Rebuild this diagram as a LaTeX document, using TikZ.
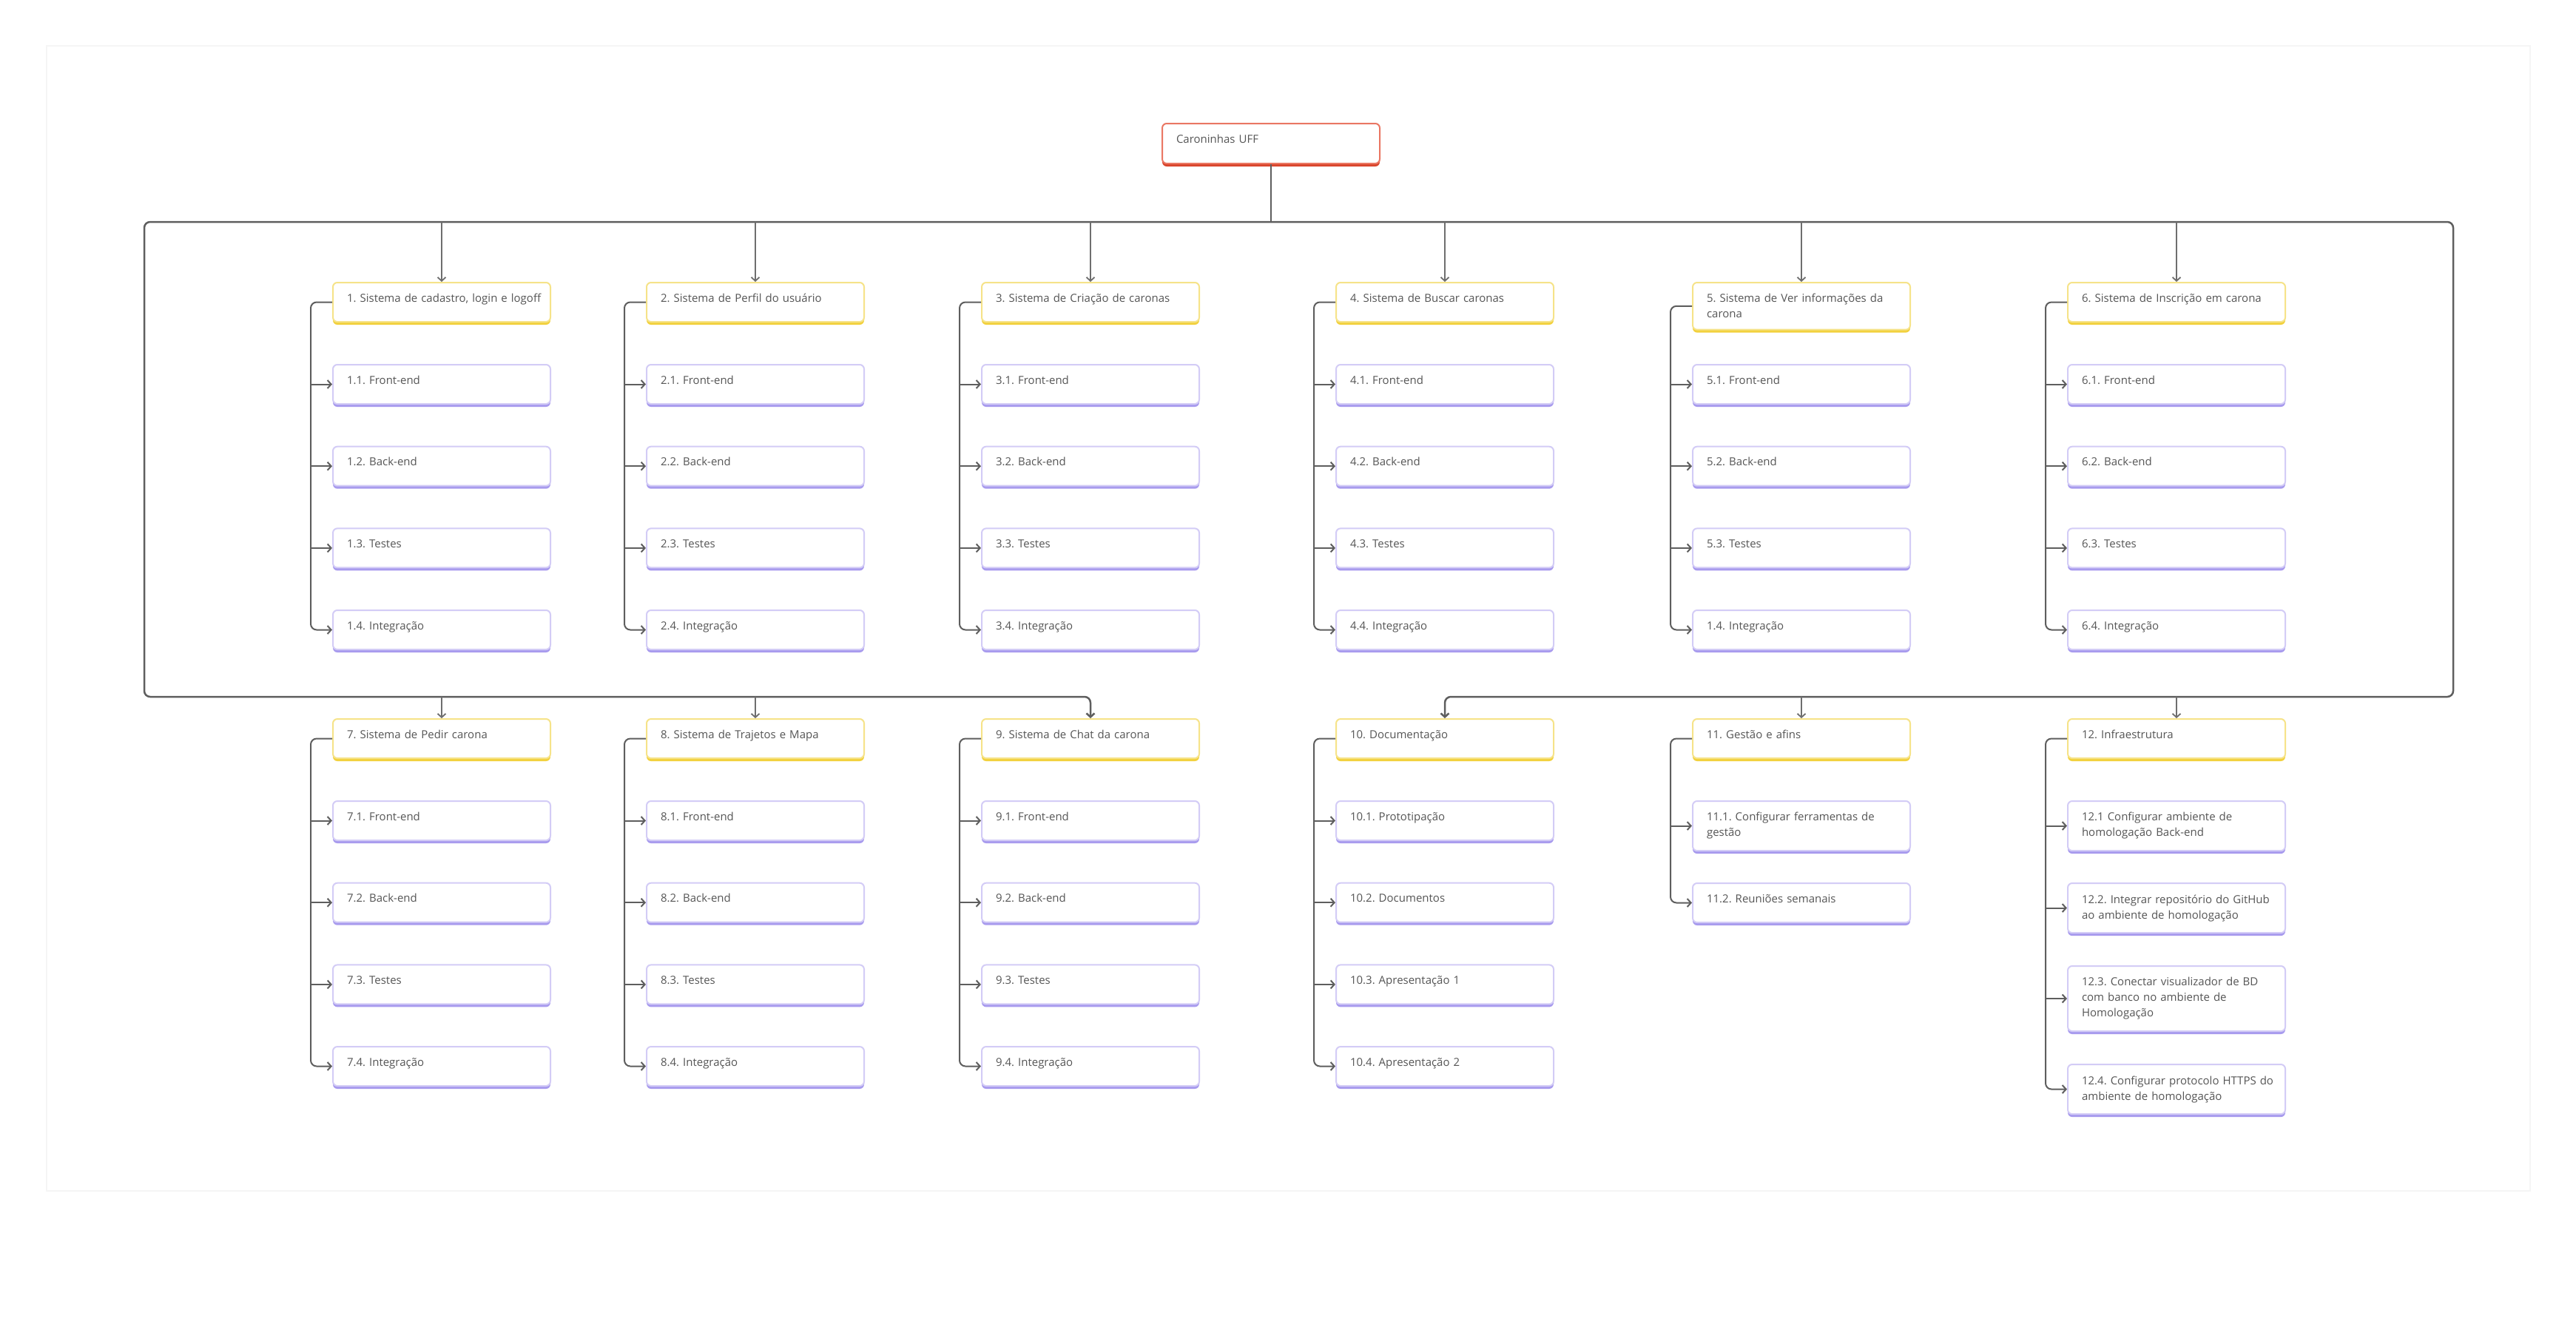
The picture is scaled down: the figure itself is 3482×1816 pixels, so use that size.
\documentclass[tikz,border=0pt]{standalone}
\usepackage{fontspec}
\setmainfont{Open Sans}
\usetikzlibrary{shadows,arrows.meta}
\definecolor{txt}{HTML}{555555}
\definecolor{ylight}{HTML}{F6E389}
\definecolor{ydark}{HTML}{F2D13E}
\definecolor{plight}{HTML}{D3CCF6}
\definecolor{pdark}{HTML}{A89BEE}
\definecolor{rlight}{HTML}{EA7763}
\definecolor{rdark}{HTML}{D9452C}
\definecolor{cgray}{HTML}{5E5E5E}
\newcommand\LL[1]{\mbox{#1}}
\frenchspacing
\begin{document}
\begin{tikzpicture}[x=1pt,y=-1pt,
  box/.style={rectangle, rounded corners=6pt, fill=white, line width=2pt,
    text width=256pt, inner xsep=19pt, inner ysep=12.5pt, minimum height=53pt,
    text depth=12pt,
    align=left, anchor=north west, font=\frenchspacing\fontsize{15}{21}\selectfont, text=txt},
  multi/.style={text depth={}, inner ysep=15.5pt},
  ybox/.style={box, draw=ylight, general shadow={fill=ydark, shadow yshift=-4pt}},
  pbox/.style={box, draw=plight, general shadow={fill=pdark, shadow yshift=-4pt}},
  rbox/.style={box, draw=rlight, minimum height=54pt, general shadow={fill=rdark, shadow yshift=-4pt}},
  tip/.style={-{Straight Barb[length=5pt,width=11pt]}},
  frame/.style={draw=cgray, line width=2.5pt},
  conn/.style={draw=cgray, line width=2pt, tip},
  drop/.style={draw=cgray!90, line width=1.8pt, tip}
]
\useasboundingbox (0,0) rectangle (3482,1816);
\fill[white] (0,0) rectangle (3482,1816);
\draw[draw=black!4, line width=1.5pt] (63,62) rectangle (3420,1610);

% root
\node[rbox] (root) at (1570,166) {Caroninhas UFF};

% parents, row 1
\node[ybox] (p1) at (449,381) {\LL{1. Sistema de cadastro, login e logoff}};
\node[ybox] (p2) at (873,381) {\LL{2. Sistema de Perfil do usuário}};
\node[ybox] (p3) at (1326,381) {\LL{3. Sistema de Criação de caronas}};
\node[ybox] (p4) at (1805,381) {\LL{4. Sistema de Buscar caronas}};
\node[ybox, multi] (p5) at (2287,381) {\LL{5. Sistema de Ver informações da}\\\LL{carona}};
\node[ybox] (p6) at (2794,381) {\LL{6. Sistema de Inscrição em carona}};
% parents, row 2
\node[ybox] (p7) at (449,971) {\LL{7. Sistema de Pedir carona}};
\node[ybox] (p8) at (873,971) {\LL{8. Sistema de Trajetos e Mapa}};
\node[ybox] (p9) at (1326,971) {\LL{9. Sistema de Chat da carona}};
\node[ybox] (p10) at (1805,971) {\LL{10. Documentação}};
\node[ybox] (p11) at (2287,971) {\LL{11. Gestão e afins}};
\node[ybox] (p12) at (2794,971) {\LL{12. Infraestrutura}};

% standard children
\foreach \i/\x/\y/\k in {1/449/381/1,2/873/381/2,3/1326/381/3,4/1805/381/4,5/2287/381/1,6/2794/381/6,7/449/971/7,8/873/971/8,9/1326/971/9}{
  \node[pbox] (c\i-1) at (\x,\y+111) {\LL{\i.1. Front-end}};
  \node[pbox] (c\i-2) at (\x,\y+221.7) {\LL{\i.2. Back-end}};
  \node[pbox] (c\i-3) at (\x,\y+332.4) {\LL{\i.3. Testes}};
  \node[pbox] (c\i-4) at (\x,\y+443) {\LL{\k.4. Integração}};
}

% column 10
\node[pbox] (c10-1) at (1805,1082) {\LL{10.1. Prototipação}};
\node[pbox] (c10-2) at (1805,1192.7) {\LL{10.2. Documentos}};
\node[pbox] (c10-3) at (1805,1303.4) {\LL{10.3. Apresentação 1}};
\node[pbox] (c10-4) at (1805,1414) {\LL{10.4. Apresentação 2}};
% column 11
\node[pbox, multi] (c11-1) at (2287,1082) {\LL{11.1. Configurar ferramentas de}\\\LL{gestão}};
\node[pbox] (c11-2) at (2287,1193) {\LL{11.2. Reuniões semanais}};
% column 12
\node[pbox, multi] (c12-1) at (2794,1082) {\LL{12.1 Configurar ambiente de}\\\LL{homologação Back-end}};
\node[pbox, multi] (c12-2) at (2794,1193) {\LL{12.2. Integrar repositório do GitHub}\\\LL{ao ambiente de homologação}};
\node[pbox, multi] (c12-3) at (2794,1305) {\LL{12.3. Conectar visualizador de BD}\\\LL{com banco no ambiente de}\\\LL{Homologação}};
\node[pbox, multi] (c12-4) at (2794,1438) {\LL{12.4. Configurar protocolo HTTPS do}\\\LL{ambiente de homologação}};

% brackets
\foreach \i/\n in {1/4,2/4,3/4,4/4,5/4,6/4,7/4,8/4,9/4,10/4,11/2,12/4}{
  \coordinate (b\i) at ([xshift=-29pt]p\i.west);
  \draw[conn, rounded corners=8pt] (p\i.west) -- (b\i) |- (c\i-\n.west);
}
\foreach \i in {1,...,10,12}{
  \foreach \j in {1,2,3}{
    \draw[conn] (b\i |- c\i-\j.west) -- (c\i-\j.west);
  }
}
\draw[conn] (b11 |- c11-1.west) -- (c11-1.west);

% frame
\coordinate (tl) at (195,300);
\coordinate (tr) at (3316,300);
\coordinate (bl) at (195,942);
\coordinate (br) at (3316,942);
\draw[frame] (root.south) -- (root.south |- tl);
\draw[frame, tip, rounded corners=8pt] (root.south |- tl) -- (tl) -- (bl) -- (p9.north |- bl) -- (p9.north);
\draw[frame, tip, rounded corners=8pt] (root.south |- tr) -- (tr) -- (br) -- (p10.north |- br) -- (p10.north);
\foreach \i in {1,...,6}{
  \draw[drop] (p\i.north |- tl) -- (p\i.north);
}
\foreach \i in {7,8}{
  \draw[drop] (p\i.north |- bl) -- (p\i.north);
}
\foreach \i in {11,12}{
  \draw[drop] (p\i.north |- br) -- (p\i.north);
}
\end{tikzpicture}
\end{document}
